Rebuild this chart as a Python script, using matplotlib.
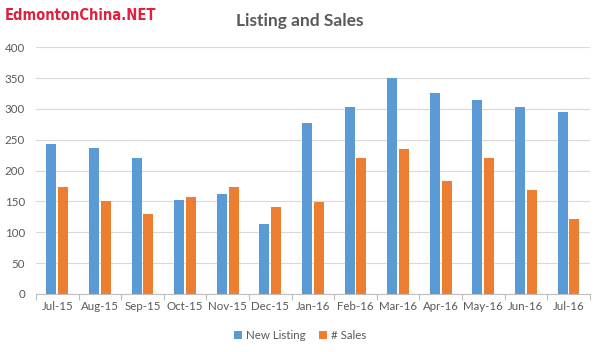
import matplotlib
matplotlib.use("Agg")
import matplotlib.pyplot as plt
import numpy as np

months = ["Jul-15", "Aug-15", "Sep-15", "Oct-15", "Nov-15", "Dec-15", "Jan-16",
          "Feb-16", "Mar-16", "Apr-16", "May-16", "Jun-16", "Jul-16"]
new_listing = [243, 236, 220, 152, 162, 113, 277, 303, 350, 326, 314, 303, 295]
sales = [173, 151, 130, 157, 173, 141, 149, 220, 235, 183, 220, 168, 121]
yticks = [0, 50, 100, 150, 200, 250, 300, 350, 400]

plt.rcParams['font.family'] = ['Lato', 'DejaVu Sans']
fig = plt.figure(figsize=(6.0, 3.52), dpi=100)
ax = fig.add_axes([0.06, 0.165, 0.923, 0.701])

x = np.arange(len(months))
w = 0.235
blue = "#5B9BD5"
orange = "#ED7D31"
ax.bar(x - w / 2 - 0.02, new_listing, width=w, color=blue, label="New Listing", zorder=3)
ax.bar(x + w / 2 + 0.02, sales, width=w, color=orange, label="# Sales", zorder=3)

ax.set_xlim(-0.5, len(months) - 0.5)
ax.set_ylim(0, 400)
ax.set_yticks(yticks)
ax.set_yticklabels([str(v) for v in yticks], color="#595959", fontsize=8.3)
ax.set_xticks(x)
ax.set_xticklabels(months, color="#595959", fontsize=8.3)
ax.tick_params(axis='y', length=0, pad=8)
ax.tick_params(axis='x', length=0, pad=5)
ax.set_xticks(np.arange(-0.5, len(months)), minor=True)
ax.tick_params(axis='x', which='minor', length=4, color="#BFBFBF", width=0.8)
ax.grid(axis='y', color="#D9D9D9", linewidth=0.8, zorder=0)
for s in ["top", "right", "left"]:
    ax.spines[s].set_visible(False)
ax.spines["bottom"].set_color("#BFBFBF")
ax.spines["bottom"].set_linewidth(0.8)

fig.text(0.5, 0.94, "Listing and Sales", ha="center", va="center",
         fontsize=12.5, fontweight="bold", color="#595959")
fig.text(0.008, 0.955, "EdmontonChina.NET", ha="left", va="center",
         fontsize=10.5, fontweight="bold", color="#E0203C", fontstretch="condensed",
         family=["DejaVu Sans"])

leg = fig.legend(loc="center", bbox_to_anchor=(0.5, 0.048), ncol=2, frameon=False,
                 fontsize=8.3, handlelength=0.7, handleheight=0.7, handletextpad=0.3,
                 columnspacing=1.2)
for t in leg.get_texts():
    t.set_color("#595959")

fig.savefig("out.png", dpi=100)
